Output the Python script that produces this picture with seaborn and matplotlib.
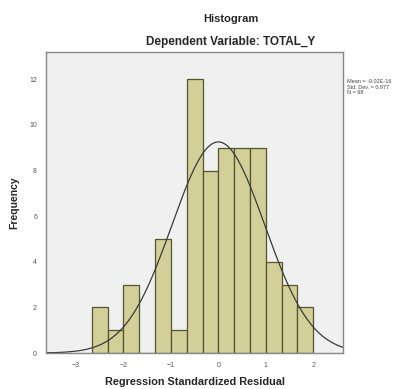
# Histogram of regression residuals with normal curve
import numpy as np
import pandas as pd
import matplotlib
matplotlib.use('Agg')
import matplotlib.pyplot as plt
import seaborn as sns

# Data
bin_edges = [-8/3, -7/3, -2, -5/3, -4/3, -1, -2/3, -1/3, 0, 1/3, 2/3, 1, 4/3, 5/3, 2]
counts = [2, 1, 3, 0, 5, 1, 12, 8, 9, 9, 9, 4, 3, 2]
mean_val = 0.0
std_val = 0.977
n_obs = 68
x_ticks = [-3, -2, -1, 0, 1, 2]
y_ticks = [0, 2, 4, 6, 8, 10, 12]

sns.set_style('white')
plt.rcParams['font.family'] = ['Liberation Sans', 'DejaVu Sans']

edges = np.array(bin_edges)
df = pd.DataFrame({'mid': (edges[:-1] + edges[1:]) / 2, 'count': counts})

fig = plt.figure(figsize=(4.11, 3.89), dpi=100)
ax = fig.add_axes([0.112, 0.0925, 0.723, 0.774])
ax.set_facecolor('#f0f0f0')

sns.histplot(data=df, x='mid', weights='count', bins=bin_edges, ax=ax,
             color='#d3cf98', edgecolor='#55542e', linewidth=0.9, alpha=1)

# fitted normal curve
bw = edges[1] - edges[0]
xs = np.linspace(-3.65, 2.65, 300)
ys = n_obs * bw * np.exp(-0.5 * ((xs - mean_val) / std_val) ** 2) / (std_val * np.sqrt(2 * np.pi))
sns.lineplot(x=xs, y=ys, ax=ax, color='#3a3a3a', linewidth=0.9)

ax.set_xlim(-3.63, 2.63)
ax.set_ylim(0, 13.2)
ax.set_xticks(x_ticks)
ax.set_yticks(y_ticks)
ax.tick_params(labelsize=5, colors='#555555', length=3, width=0.6, direction='out')
for s in ax.spines.values():
    s.set_color('#888888')
    s.set_linewidth(1.0)

ax.set_xlabel('Regression Standardized Residual', fontsize=7.8, fontweight='bold', labelpad=6)
ax.set_ylabel('Frequency', fontsize=7.5, fontweight='bold', labelpad=7)

fig.text(0.562, 0.951, 'Histogram', ha='center', va='center', fontsize=8, fontweight='bold')
fig.text(0.562, 0.892, 'Dependent Variable: TOTAL_Y', ha='center', va='center', fontsize=8.5, fontweight='bold')

fig.text(0.845, 0.776, 'Mean = -9.02E-16\nStd. Dev. = 0.977\nN = %d' % n_obs,
         ha='left', va='center', fontsize=4, color='#444444', linespacing=1.1)

fig.savefig('out.png', dpi=100)
